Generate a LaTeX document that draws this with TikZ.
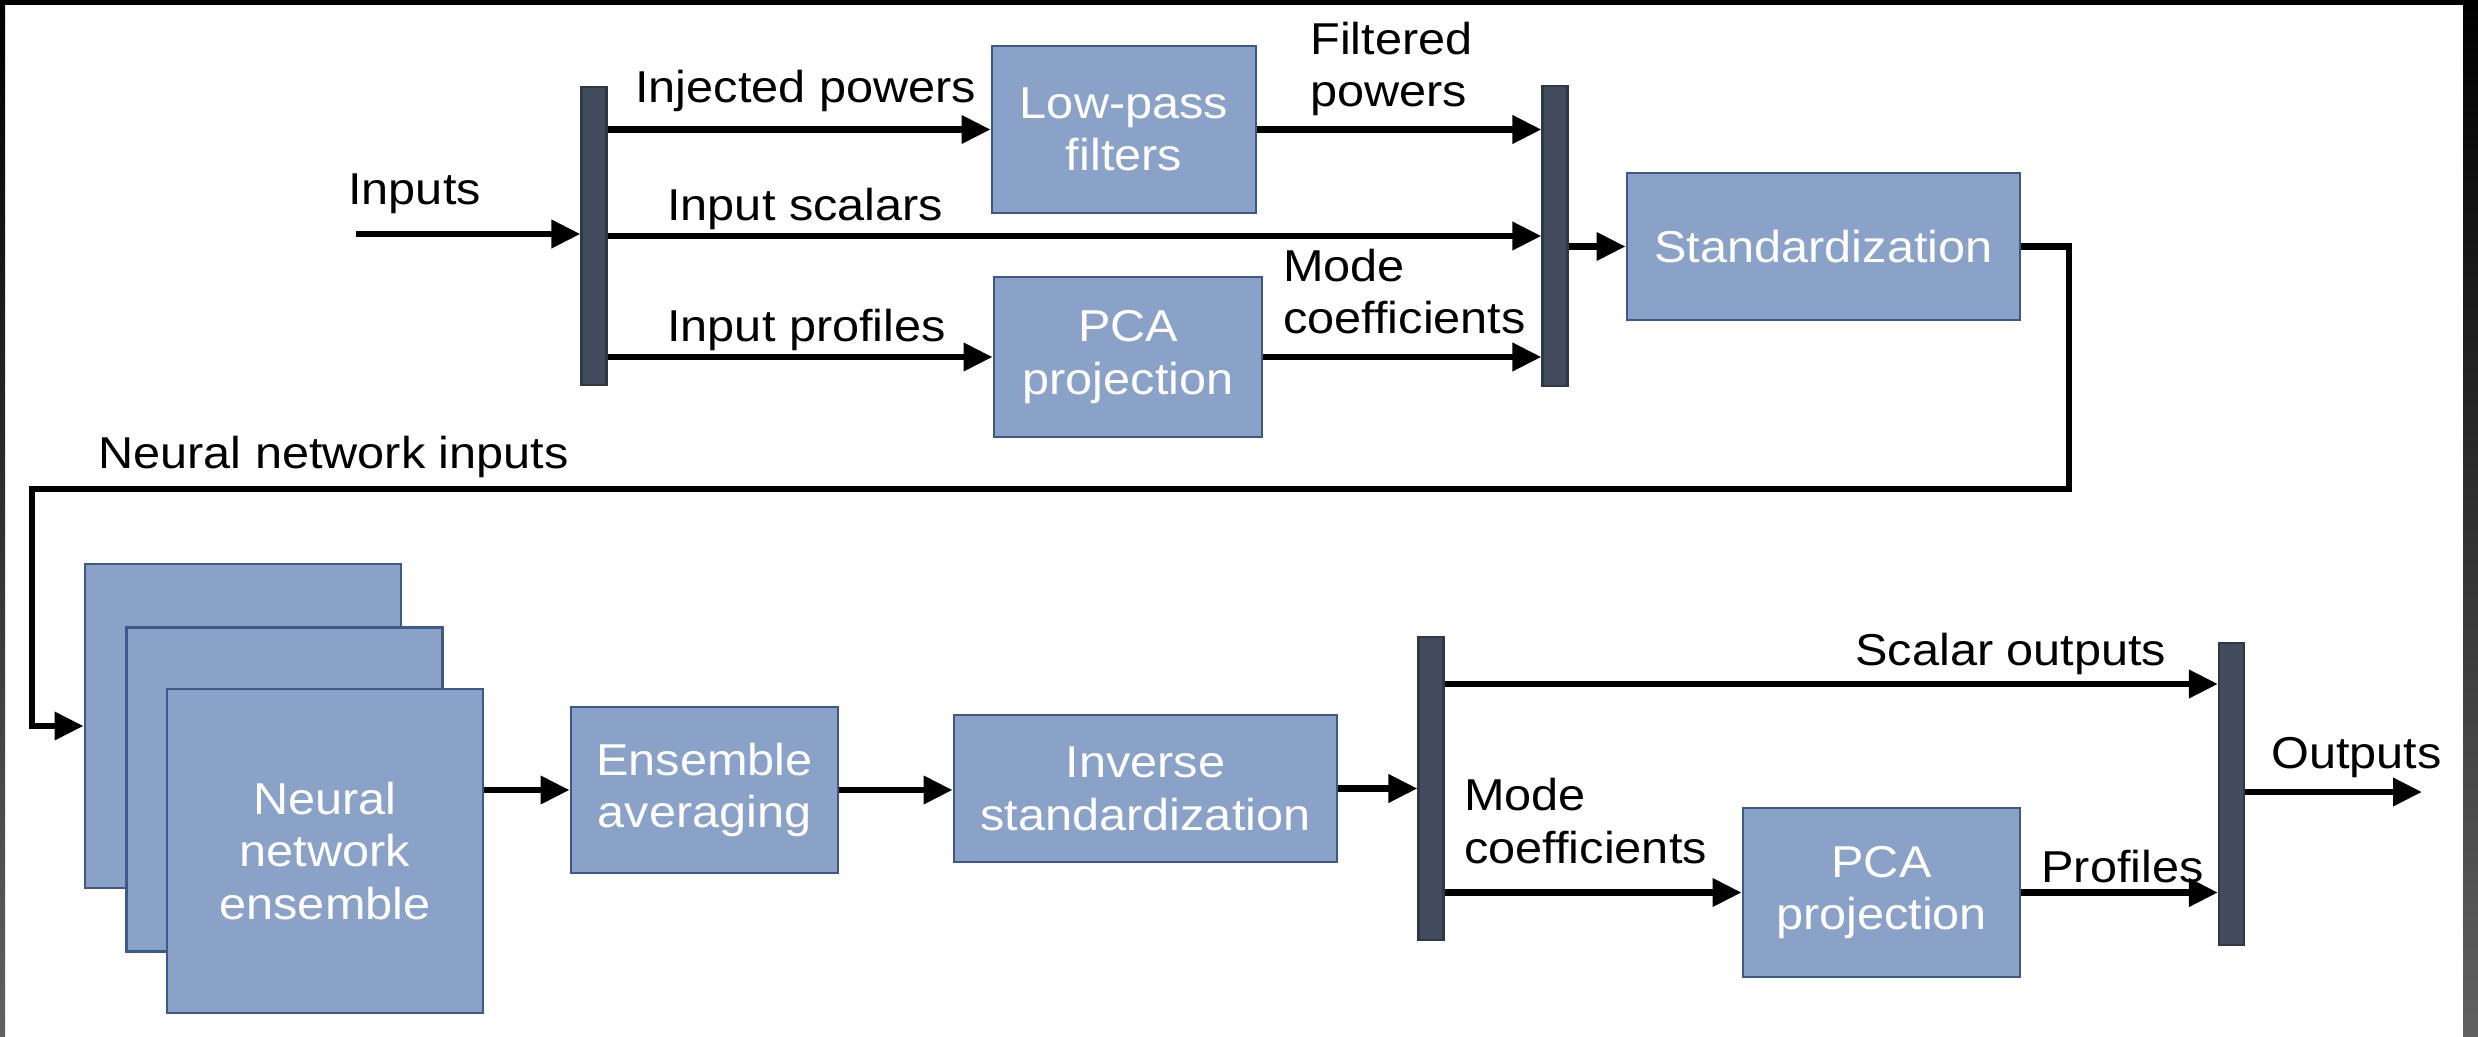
\documentclass[tikz,border=0pt]{standalone}
\usepackage{fontspec}
\setmainfont{Liberation Sans}[FakeStretch=1.09]
\usepackage{tikz}
\usetikzlibrary{arrows.meta,positioning,calc}
\definecolor{boxfill}{RGB}{138,162,199}
\definecolor{boxline}{RGB}{62,88,138}
\definecolor{barfill}{RGB}{66,76,94}
\definecolor{barline}{RGB}{48,56,70}
\tikzset{
  blk/.style={ draw=boxline, line width=0.8pt, fill=boxfill, text=white, align=center, inner sep=0pt }
}
\tikzset{
  barV/.style={ draw=barline, line width=0.6pt, fill=barfill, minimum width=2.5mm, inner sep=0pt }
}
\tikzset{
  lbl/.style={ inner sep=0pt, align=left, anchor=base west }
}

\begin{document}
\begin{tikzpicture}[>={Triangle[length=2.9mm,width=2.7mm]}, line width=1.9pt, font=\fontsize{12.7}{15}\selectfont]
      \useasboundingbox (0,0) rectangle (24.78,-10.37);
      % frame edges
      \fill[black] (0,0) rectangle (24.78,-0.05);
      \shade[top color=black, bottom color=black!62] (0,-0.05) rectangle (0.05,-10.37);
      \shade[top color=black, bottom color=black!62] (24.63,-0.05) rectangle (24.78,-10.37);

      % input stage
      \node[barV, minimum height=29.8mm] (bar1) at (5.94,-2.36) {};
      \node[blk, minimum width=26.4mm, minimum height=16.7mm] (lpf) at (11.24,-1.295) {Low-pass\\filters};
      \node[blk, minimum width=26.8mm, minimum height=16mm] (pcaA) at (11.28,-3.57) {PCA\\projection};
      \node[barV, minimum height=30mm] (bar2) at (15.55,-2.36) {};
      \node[blk, minimum width=39.3mm, minimum height=14.7mm] (stdz) at (18.235,-2.465) {Standardization};

      \coordinate (inp) at (3.56,-2.34);
      \draw[->] (inp) -- (inp -| bar1.west);
      \draw[->] (lpf.west -| bar1.east) -- (lpf.west);
      \draw[->] (bar1.east) -- (bar1.east -| bar2.west);
      \draw[->] (pcaA.west -| bar1.east) -- (pcaA.west);
      \draw[->] (lpf.east) -- (lpf.east -| bar2.west);
      \draw[->] (pcaA.east) -- (pcaA.east -| bar2.west);
      \draw[->] (stdz.west -| bar2.east) -- (stdz.west);

      \node[lbl] (inpL) at (3.45,-2.05) {Inputs};
      \node[lbl] (injL) at (6.32,-1.03) {Injected powers};
      \node[lbl] (sclL) at (6.64,-2.21) {Input scalars};
      \node[lbl] (prfL) at (6.64,-3.42) {Input profiles};
      \node[lbl] (fltL) at (13.07,-1.07) {Filtered\\powers};
      \node[lbl] (mdcA) at (12.80,-3.34) {Mode\\coefficients};

      % feed back to the ensemble
      \node[blk, minimum width=31.6mm, minimum height=32.4mm] (nnA) at (2.43,-7.26) {};
      \node[blk, minimum width=31.6mm, minimum height=32.4mm] (nnB) at (2.845,-7.895) {};
      \node[blk, minimum width=31.6mm, minimum height=32.4mm] (nnC) at (3.25,-8.51) {Neural\\network\\ensemble};

      \coordinate (turnR) at (20.69,-4.89);
      \coordinate (turnL) at (0.32,-4.89);
      \draw[->] (stdz.east) -| (turnR) -- (turnL) |- (nnA.west);
      \node[lbl] (nniL) at (0.95,-4.68) {Neural network inputs};

      % output stage
      \node[blk, minimum width=26.7mm, minimum height=16.6mm] (avg) at (7.045,-7.90) {Ensemble\\averaging};
      \node[blk, minimum width=38.3mm, minimum height=14.7mm] (invstd) at (11.455,-7.885) {Inverse\\standardization};
      \node[barV, minimum height=30.3mm] (bar3) at (14.31,-7.885) {};
      \node[blk, minimum width=27.7mm, minimum height=16.9mm] (pcaB) at (18.815,-8.925) {PCA\\projection};
      \node[barV, minimum height=30.2mm] (bar4) at (22.315,-7.94) {};

      \draw[->] (avg.west -| nnC.east) -- (avg.west);
      \draw[->] (avg.east) -- (avg.east -| invstd.west);
      \draw[->] (invstd.east) -- (invstd.east -| bar3.west);
      \draw[->] ([yshift=10.45mm]bar3.east) -- ([yshift=10.45mm]bar3.east -| bar4.west);
      \draw[->] (pcaB.west -| bar3.east) -- (pcaB.west);
      \draw[->] (pcaB.east) -- (pcaB.east -| bar4.west);
      \coordinate (outp) at (24.22,-7.92);
      \draw[->] (outp -| bar4.east) -- (outp);

      \node[lbl] (scoL) at (18.52,-6.65) {Scalar outputs};
      \node[lbl] (mdcB) at (14.61,-8.63) {Mode\\coefficients};
      \node[lbl] (proL) at (20.38,-8.82) {Profiles};
      \node[lbl] (outL) at (22.68,-7.68) {Outputs};
\end{tikzpicture}
\end{document}
